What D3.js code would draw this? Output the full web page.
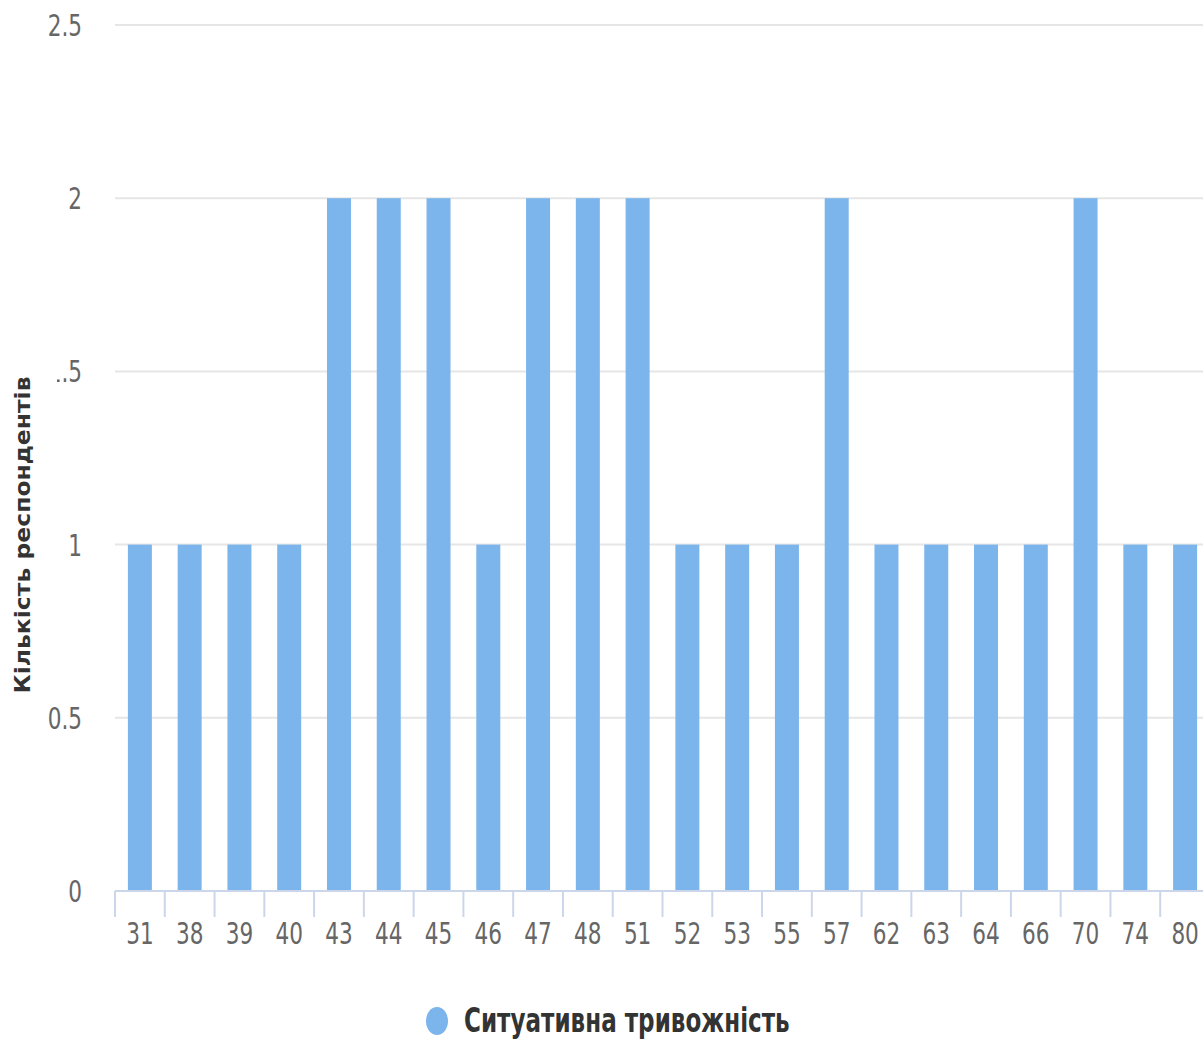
<!DOCTYPE html>
<meta charset="utf-8">
<style>
body { margin: 0; background: #fff; }
text { font-family: "DejaVu Sans Condensed", "DejaVu Sans", sans-serif; }
.grid line { stroke: #e6e6e6; stroke-width: 2px; }
.ylab { fill: #666; font-size: 24px; }
.xlab { fill: #666; font-size: 24px; }
.bar { fill: #7cb5ec; }
</style>
<svg width="1203" height="1039"></svg>
<script src="https://d3js.org/d3.v7.min.js"></script>
<script>
var categories = ["31","38","39","40","43","44","45","46","47","48","51","52","53","55","57","62","63","64","66","70","74","80"];
var values = [1,1,1,1,2,2,2,1,2,2,2,1,1,1,2,1,1,1,1,2,1,1];
var yTicks = [0, 0.5, 1, 1.5, 2, 2.5];
var seriesName = "Ситуативна тривожність";
var yTitle = "Кількість респондентів";

var svg = d3.select("svg"),
    plotLeft = 115, plotRight = 1210, plotTop = 25, plotBottom = 891;

var x = d3.scaleBand().domain(categories).range([plotLeft, plotRight]);
var y = d3.scaleLinear().domain([0, 2.5]).range([plotBottom, plotTop]);

// grid
svg.append("g").attr("class", "grid")
  .selectAll("line").data(yTicks.slice(1)).enter().append("line")
  .attr("x1", plotLeft).attr("x2", 1203)
  .attr("y1", function(d) { return y(d); }).attr("y2", function(d) { return y(d); });

// y labels (the image is stretched vertically, so text is too)
svg.append("g").selectAll("text").data(yTicks).enter().append("text")
  .attr("class", "ylab")
  .attr("text-anchor", "end")
  .attr("transform", function(d) { return "translate(82," + (y(d) + 11) + ") scale(1,1.25)"; })
  .text(function(d) { return d; });

// bars
var bw = 24;
svg.append("g").selectAll("rect").data(values).enter().append("rect")
  .attr("class", "bar")
  .attr("x", function(d, i) { return x(categories[i]) + x.bandwidth() / 2 - bw / 2; })
  .attr("width", bw)
  .attr("y", function(d) { return y(d); })
  .attr("height", function(d) { return y(0) - y(d); });

// x axis line
svg.append("line")
  .attr("x1", plotLeft).attr("x2", 1203).attr("y1", plotBottom).attr("y2", plotBottom)
  .attr("stroke", "#ccd6eb").attr("stroke-width", 2);

// tick marks between categories
svg.append("g").selectAll("line").data(categories).enter().append("line")
  .attr("x1", function(d) { return x(d); }).attr("x2", function(d) { return x(d); })
  .attr("y1", plotBottom).attr("y2", plotBottom + 26)
  .attr("stroke", "#ccd6eb").attr("stroke-width", 2);

// x labels
svg.append("g").selectAll("text").data(categories).enter().append("text")
  .attr("class", "xlab")
  .attr("text-anchor", "middle")
  .attr("transform", function(d) { return "translate(" + (x(d) + x.bandwidth() / 2) + "," + (plotBottom + 53) + ") scale(1,1.25)"; })
  .text(function(d) { return d; });

// y title
svg.append("rect").attr("x", 0).attr("y", 360).attr("width", 57).attr("height", 340).attr("fill", "#fff");
svg.append("text")
  .attr("transform", "translate(30,535) rotate(-90) scale(1.12,1)")
  .attr("text-anchor", "middle")
  .style("font-family", "'DejaVu Sans', sans-serif")
  .style("font-size", "21px").style("font-weight", "bold").attr("fill", "#333")
  .text(yTitle);

// legend
svg.append("ellipse").attr("cx", 437).attr("cy", 1021).attr("rx", 11).attr("ry", 14).attr("fill", "#7cb5ec");
svg.append("text")
  .attr("transform", "translate(464,1032) scale(0.95,1.25)")
  .style("font-size", "27px").style("font-weight", "bold").attr("fill", "#333")
  .text(seriesName);
</script>
